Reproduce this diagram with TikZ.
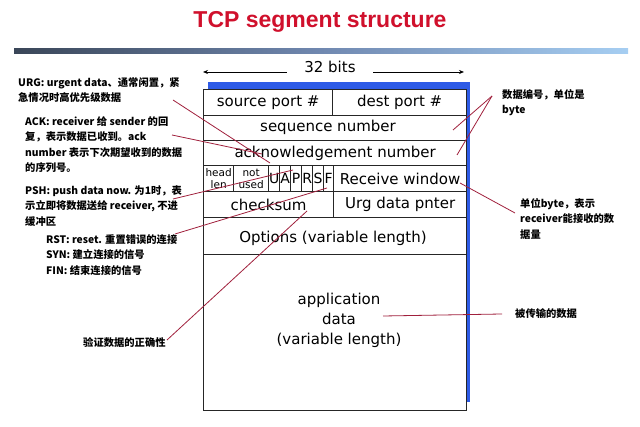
\documentclass[tikz,border=0pt]{standalone}
\usepackage{fontspec}
\setmainfont{DejaVu Sans}
\newfontfamily\cjk{Noto Sans CJK SC}
\newfontfamily\titlefont{Liberation Sans}
\usetikzlibrary{arrows.meta}
\definecolor{titlered}{HTML}{D0102C}
\definecolor{shadowblue}{HTML}{2E5BE6}
\definecolor{linered}{HTML}{A0203C}
\definecolor{barleft}{HTML}{3A4658}
\definecolor{barmid}{HTML}{7088B0}
\definecolor{barright}{HTML}{A6CEF2}
\begin{document}
\begin{tikzpicture}[x=1pt,y=-1pt,
  cell/.style={draw=black!85, fill=white, line width=1.3pt, inner sep=0pt, anchor=north west,
    font=\fontsize{15}{18}\selectfont},
  flag/.style={cell, font=\fontsize{14}{16}\selectfont, minimum height=26pt},
  small/.style={cell, font=\fontsize{10.5}{12}\selectfont, align=center, minimum height=26pt},
  note/.style={anchor=north west, inner sep=0pt, align=left,
    font=\cjk\bfseries\fontsize{10.3}{15.5}\selectfont},
  redline/.style={draw=linered, line width=0.8pt},
  dimarrow/.style={draw=black, line width=0.7pt, -{Stealth[length=5pt,width=4pt]}}]
\useasboundingbox (0,0) rectangle (640,427);
% title and bar
\node[font=\titlefont\bfseries\fontsize{23}{26}\selectfont, text=titlered] (title) at (320,22) {TCP segment structure};
\shade[left color=barleft, right color=barright, middle color=barmid] (14,49) rectangle (628,54);
% 32 bits
\node[font=\fontsize{15}{18}\selectfont] (bits) at (330,67) {32 bits};
\coordinate (bl) at (203,72);
\coordinate (br) at (464,72);
\draw[dimarrow] (bits.west|-bl) ++(-14,0) -- (bl);
\draw[dimarrow] (bits.east|-br) ++(14,0) -- (br);
% blue shadow
\fill[shadowblue] (208,82) rectangle (470,402);
% cells
\node[cell, minimum width=129pt, minimum height=26pt] (src) at (203,89) {source port \#};
\node[cell, minimum width=134pt, minimum height=26pt] (dst) at (332,89) {dest port \#};
\node[cell, minimum width=263pt, minimum height=25pt] (seq) at (203,115) {};
\node[font=\fontsize{15}{18}\selectfont, inner sep=0pt] (seqtxt) at (328,127.5) {sequence number};
\node[cell, minimum width=263pt, minimum height=25pt] (ack) at (203,140) {acknowledgement number};
\node[small, minimum width=30pt] (hlen) at (203,165) {head\\len};
\node[small, minimum width=35pt] (nu) at (233,165) {not\\used};
\node[flag, minimum width=11pt] (fu) at (268,165) {U};
\node[flag, minimum width=11pt] (fa) at (279,165) {A};
\node[flag, minimum width=11pt] (fp) at (290,165) {P};
\node[flag, minimum width=11pt] (fr) at (301,165) {R};
\node[flag, minimum width=11pt] (fs) at (312,165) {S};
\node[flag, minimum width=10pt] (ff) at (323,165) {F};
\node[cell, minimum width=133pt, minimum height=26pt] (rwnd) at (333,165) {Receive window};
\node[cell, minimum width=130pt, minimum height=26pt] (csum) at (203,191) {checksum};
\node[cell, minimum width=133pt, minimum height=26pt] (urgp) at (333,191) {Urg data pnter};
\node[cell, minimum width=263pt, minimum height=37pt] (opt) at (203,217) {};
\node[font=\fontsize{15}{18}\selectfont, inner sep=0pt] (opttxt) at (333,238) {Options (variable length)};
\node[cell, minimum width=263pt, minimum height=156pt] (data) at (203,254) {};
\node[align=center, font=\fontsize{15}{20}\selectfont, inner sep=0pt] (datatxt) at (339,320) {application\\data\\(variable length)};
% notes
\node[note] (nurg) at (18,77) {URG: urgent data、通常闲置，紧\\急情况时高优先级数据};
\node[note] (nack) at (25,116) {ACK: receiver 给 sender 的回\\复，表示数据已收到。ack\\number 表示下次期望收到的数据\\的序列号。};
\node[note] (npsh) at (25,185) {PSH: push data now. 为1时，表\\示立即将数据送给 receiver, 不进\\缓冲区};
\node[note] (nrst) at (46,234) {RST: reset. 重置错误的连接\\SYN: 建立连接的信号\\FIN: 结束连接的信号};
\node[note] (nseq) at (502,89) {数据编号，单位是\\byte};
\node[note] (nwin) at (520,198) {单位byte，表示\\receiver能接收的数\\据量};
\node[note] (ndata) at (515,308) {被传输的数据};
\node[note] (ncsum) at (83,337) {验证数据的正确性};
% red connectors
\coordinate (urgA) at (173,100); \coordinate (urgB) at (270,163);
\coordinate (ackA) at (172,135); \coordinate (ackB) at (262,154);
\coordinate (pshA) at (173,199); \coordinate (pshB) at (293,170);
\coordinate (rstA) at (175,234); \coordinate (rstB) at (327,188);
\coordinate (csA) at (167,340);  \coordinate (csB) at (307,211);
\coordinate (seqA) at (492,96);  \coordinate (seqB) at (453,130); \coordinate (ackR) at (457,155);
\coordinate (winA) at (460,183); \coordinate (winB) at (515,213);
\coordinate (dA) at (383,316);   \coordinate (dB) at (502,314);
\draw[redline] (urgA) -- (urgB);
\draw[redline] (ackA) -- (ackB);
\draw[redline] (pshA) -- (pshB);
\draw[redline] (rstA) -- (rstB);
\draw[redline] (csA) -- (csB);
\draw[redline] (seqA) -- (seqB);
\draw[redline] (seqA) -- (ackR);
\draw[redline] (winA) -- (winB);
\draw[redline] (dA) -- (dB);
\end{tikzpicture}
\end{document}
